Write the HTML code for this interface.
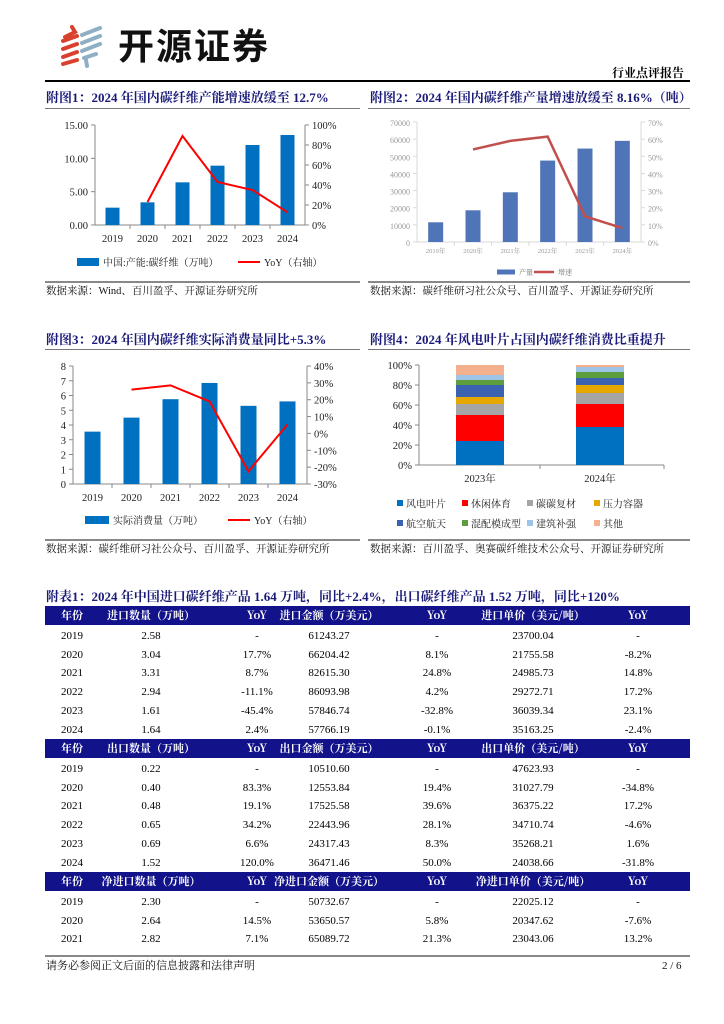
<!DOCTYPE html>
<html><head><meta charset="utf-8">
<style>
body{margin:0;background:#fff;}
#page{position:relative;width:724px;height:1024px;overflow:hidden;background:#fff;font-family:"Liberation Serif","Noto Serif CJK SC",serif;color:#000;}
.abs{position:absolute;}
.title{position:absolute;font-weight:bold;font-size:13px;line-height:16px;color:#1a1a7a;white-space:nowrap;font-family:"Liberation Serif","Noto Serif CJK SC",serif;}
.src{position:absolute;font-size:10.5px;line-height:14px;white-space:nowrap;color:#111;font-family:"Liberation Serif","Noto Serif CJK SC",serif;}
.hl{position:absolute;height:1px;background:#777;}
.sl{position:absolute;height:2px;background:#888;}
svg text{font-family:"Liberation Serif","Noto Serif CJK SC",serif;}
.tr{position:absolute;left:45px;width:645px;height:19px;font-size:11px;}
.tr span{position:absolute;top:0;line-height:19px;transform:translateX(-50%);white-space:nowrap;}
.th{background:#12128a;color:#fff;font-weight:bold;}
</style></head>
<body>
<div id="page">
  <svg class="abs" style="left:58px;top:24px" width="50" height="44">
    <g stroke="#d9412e" stroke-width="4" fill="none" stroke-linecap="round">
      <path d="M14 3 L17 8 L7 13"/><path d="M5 17 L19 12"/><path d="M5 25 L19 20"/><path d="M5 33 L19 28"/><path d="M5 40 L19 36"/>
    </g>
    <g stroke="#8fb0c4" stroke-width="4" fill="none" stroke-linecap="round">
      <path d="M24 11 L42 4"/><path d="M24 19 L42 12"/><path d="M24 27 L42 20"/><path d="M26 34 L38 30"/><path d="M28 36 L29 42"/>
    </g>
  </svg>
  <div class="abs" style="left:118px;top:22px;font-size:36px;font-weight:bold;letter-spacing:2px;font-family:'Noto Sans CJK SC',sans-serif;color:#111;line-height:44px">开源证券</div>
  <div class="abs" style="left:612px;top:64px;font-size:12px;font-weight:bold;font-family:'Noto Serif CJK SC',serif">行业点评报告</div>
  <div class="abs" style="left:45px;top:80px;width:645px;height:2px;background:#000"></div>

  <div class="title" style="left:46px;top:90px">附图1：2024 年国内碳纤维产能增速放缓至 12.7%</div>
  <div class="hl" style="left:45px;top:108px;width:315px"></div>
  <div class="title" style="left:370px;top:90px">附图2：2024 年国内碳纤维产量增速放缓至 8.16%（吨）</div>
  <div class="hl" style="left:368px;top:108px;width:322px"></div>

  <svg id="c1" class="abs" style="left:0;top:0" width="724" height="300"></svg>
  <svg id="c2" class="abs" style="left:0;top:0" width="724" height="300"></svg>

  <div class="sl" style="left:45px;top:281px;width:315px"></div>
  <div class="src" style="left:46px;top:285px">数据来源：Wind、百川盈孚、开源证券研究所</div>
  <div class="sl" style="left:368px;top:281px;width:322px"></div>
  <div class="src" style="left:370px;top:285px">数据来源：碳纤维研习社公众号、百川盈孚、开源证券研究所</div>

  <div class="title" style="left:46px;top:332px">附图3：2024 年国内碳纤维实际消费量同比+5.3%</div>
  <div class="hl" style="left:45px;top:349px;width:315px"></div>
  <div class="title" style="left:370px;top:332px">附图4：2024 年风电叶片占国内碳纤维消费比重提升</div>
  <div class="hl" style="left:368px;top:349px;width:322px"></div>

  <svg id="c3" class="abs" style="left:0;top:0" width="724" height="560"></svg>
  <svg id="c4" class="abs" style="left:0;top:0" width="724" height="560"></svg>

  <div class="sl" style="left:45px;top:539px;width:315px"></div>
  <div class="src" style="left:46px;top:543px">数据来源：碳纤维研习社公众号、百川盈孚、开源证券研究所</div>
  <div class="sl" style="left:368px;top:539px;width:322px"></div>
  <div class="src" style="left:370px;top:543px">数据来源：百川盈孚、奥赛碳纤维技术公众号、开源证券研究所</div>

  <div class="title" style="left:46px;top:589px">附表1：2024 年中国进口碳纤维产品 1.64 万吨，同比+2.4%，出口碳纤维产品 1.52 万吨，同比+120%</div>
  <div id="tbl"></div>

  <div class="abs" style="left:45px;top:955px;width:645px;height:2px;background:#888"></div>
  <div class="src" style="left:46px;top:959px;font-size:11px">请务必参阅正文后面的信息披露和法律声明</div>
  <div class="src" style="left:662px;top:959px;font-size:11px">2 / 6</div>
</div>
<script>
const years = ["2019","2020","2021","2022","2023","2024"];
const capValues = [2.6, 3.4, 6.4, 8.9, 12.0, 13.5];
const capYoY = [null, 23, 89, 43, 35, 12.7];
const capLeftTicks = ["0.00","5.00","10.00","15.00"];
const capRightTicks = ["0%","20%","40%","60%","80%","100%"];

const outYears = ["2019年","2020年","2021年","2022年","2023年","2024年"];
const outValues = [11500, 18500, 29000, 47500, 54500, 59000];
const outGrowth = [null, 54, 59, 61.5, 15, 8.16];
const outLeftTicks = ["0","10000","20000","30000","40000","50000","60000","70000"];
const outRightTicks = ["0%","10%","20%","30%","40%","50%","60%","70%"];

const conValues = [3.55, 4.5, 5.75, 6.85, 5.3, 5.6];
const conYoY = [null, 26, 28.5, 19, -22.5, 5.3];
const conLeftTicks = ["0","1","2","3","4","5","6","7","8"];
const conRightTicks = ["-30%","-20%","-10%","0%","10%","20%","30%","40%"];

const shareYears = ["2023年","2024年"];
const shareCats = ["风电叶片","休闲体育","碳碳复材","压力容器","航空航天","混配模成型","建筑补强","其他"];
const share2023 = [24, 26, 11, 7, 12, 5, 5, 10];
const share2024 = [38, 23, 11, 8, 7, 6, 5, 2];
const shareTicks = ["0%","20%","40%","60%","80%","100%"];

const NS="http://www.w3.org/2000/svg";
function mk(svg,tag,attrs,txt){const e=document.createElementNS(NS,tag);for(const k in attrs)e.setAttribute(k,attrs[k]);if(txt!==undefined)e.textContent=txt;svg.appendChild(e);return e;}

function comboChart(o){
  const s=document.getElementById(o.id);
  const n=o.cats.length, step=(o.x1-o.x0)/n;
  const yL=v=>o.yb-(v-o.lmin)/(o.lmax-o.lmin)*(o.yb-o.yt);
  const yR=v=>o.yb-(v-o.rmin)/(o.rmax-o.rmin)*(o.yb-o.yt);
  const xc=i=>o.x0+step*(i+0.5);
  let a=mk(s,'line',{x1:o.x0,y1:o.yt,x2:o.x0,y2:o.yb,stroke:o.axisColor,'stroke-width':1});
  
  a=mk(s,'line',{x1:o.x1,y1:o.yt,x2:o.x1,y2:o.yb,stroke:o.axisColor,'stroke-width':1});
  
  a=mk(s,'line',{x1:o.x0,y1:o.yb,x2:o.x1,y2:o.yb,stroke:o.axisColor,'stroke-width':1});
  
  o.lt.forEach((t,i)=>{const v=o.lmin+i*(o.lmax-o.lmin)/(o.lt.length-1);const y=yL(v);
    mk(s,'line',{x1:o.x0-4,y1:y,x2:o.x0,y2:y,stroke:o.axisColor});
    const e=mk(s,'text',{x:o.x0-7,y:y+4,'text-anchor':'end','font-size':o.tf,fill:o.tc},t);
    });
  o.rt.forEach((t,i)=>{const v=o.rmin+i*(o.rmax-o.rmin)/(o.rt.length-1);const y=yR(v);
    mk(s,'line',{x1:o.x1,y1:y,x2:o.x1+4,y2:y,stroke:o.axisColor});
    const e=mk(s,'text',{x:o.x1+7,y:y+4,'text-anchor':'start','font-size':o.tf,fill:o.tc},t);
    });
  for(let i=1;i<n;i++){mk(s,'line',{x1:o.x0+step*i,y1:o.yb,x2:o.x0+step*i,y2:o.yb+4,stroke:o.axisColor});}
  o.cats.forEach((c,i)=>{const e=mk(s,'text',{x:xc(i),y:o.yb+o.catDy,'text-anchor':'middle','font-size':o.cf,fill:o.tc},c);
    });
  o.bars.forEach((v,i)=>{const y=yL(v);const r=mk(s,'rect',{x:xc(i)-o.bw/2,y:y,width:o.bw,height:o.yb-y,fill:o.barColor});
    });
  let d='';o.line.forEach((v,i)=>{if(v===null)return;d+=(d?'L':'M')+xc(i)+' '+yR(v)+' ';});
  const p=mk(s,'path',{d:d,fill:'none',stroke:o.lineColor,'stroke-width':o.lw});
  
  const L=o.leg;
  let r=mk(s,'rect',{x:L.x,y:L.y-L.bh/2,width:L.bw,height:L.bh,fill:o.barColor});
  
  let t=mk(s,'text',{x:L.x+L.bw+4,y:L.y+L.f*0.38,'font-size':L.f,fill:L.c||'#222'},L.t1);
  
  let l=mk(s,'line',{x1:L.x2,y1:L.y,x2:L.x2+L.lw,y2:L.y,stroke:o.lineColor,'stroke-width':o.lw});
  
  t=mk(s,'text',{x:L.x2+L.lw+4,y:L.y+L.f*0.38,'font-size':L.f,fill:L.c||'#222'},L.t2);
  
}

comboChart({id:'c1',cats:years,bars:capValues,line:capYoY,x0:95,x1:305,yt:125,yb:225,lmin:0,lmax:15,rmin:0,rmax:100,
  lt:capLeftTicks,rt:capRightTicks,tf:10.5,cf:10.5,tc:'#222',axisColor:'#888',catDy:17,bw:14,barColor:'#0070c0',lineColor:'#ff0000',lw:2,
  leg:{x:77,y:262,bw:22,bh:8,f:10,t1:'中国:产能:碳纤维（万吨）',x2:238,lw:22,t2:'YoY（右轴）'}});
comboChart({id:'c2',cats:outYears,bars:outValues,line:outGrowth,x0:417,x1:641,yt:122,yb:242,lmin:0,lmax:70000,rmin:0,rmax:70,
  lt:outLeftTicks,rt:outRightTicks,tf:8,cf:6.5,tc:'#999',axisColor:'#d9d9d9',catDy:11,bw:15,barColor:'#4f75b8',lineColor:'#c0504d',lw:2.5,
  leg:{x:497,y:272,bw:18,bh:5,f:7,c:'#777',t1:'产量',x2:534,lw:20,t2:'增速'}});
comboChart({id:'c3',cats:years,bars:conValues,line:conYoY,x0:73,x1:307,yt:366,yb:484,lmin:0,lmax:8,rmin:-30,rmax:40,
  lt:conLeftTicks,rt:conRightTicks,tf:10.5,cf:10.5,tc:'#222',axisColor:'#888',catDy:17,bw:16,barColor:'#0070c0',lineColor:'#ff0000',lw:2,
  leg:{x:85,y:520,bw:24,bh:8,f:10,t1:'实际消费量（万吨）',x2:228,lw:22,t2:'YoY（右轴）'}});

(function(){
  const s=document.getElementById('c4');
  const colors=['#0070c0','#ff0000','#a5a5a5','#e6a700','#3a62b0','#5c9e3d','#9dc3e6','#f4b08c'];
  const x0=419,x1=664,yt=365,yb=465;
  const y=v=>yb-v/100*(yb-yt);
  const centers=[480,600];
  let a=mk(s,'line',{x1:x0,y1:yt,x2:x0,y2:yb,stroke:'#888'});
  a=mk(s,'line',{x1:x0,y1:yb,x2:x1,y2:yb,stroke:'#888'});
  shareTicks.forEach((t,i)=>{const yy=y(i*20);mk(s,'line',{x1:x0-4,y1:yy,x2:x0,y2:yy,stroke:'#888'});
    const e=mk(s,'text',{x:x0-7,y:yy+4,'text-anchor':'end','font-size':10.5,fill:'#222'},t);
    });
  mk(s,'line',{x1:540,y1:yb,x2:540,y2:yb+4,stroke:'#888'});mk(s,'line',{x1:x1,y1:yb,x2:x1,y2:yb+4,stroke:'#888'});
  [share2023,share2024].forEach((arr,j)=>{let acc=0;arr.forEach((v,k)=>{const r=mk(s,'rect',{x:centers[j]-24,y:y(acc+v),width:48,height:y(acc)-y(acc+v),fill:colors[k]});
      acc+=v;});
    const e=mk(s,'text',{x:centers[j],y:yb+17,'text-anchor':'middle','font-size':10.5,fill:'#222'},shareYears[j]);
    });
  const lx=[397,462,527,594];
  shareCats.forEach((c,k)=>{const row=Math.floor(k/4),col=k%4;const X=lx[col],Y=504+row*20;
    const r=mk(s,'rect',{x:X,y:Y-4,width:6,height:6,fill:colors[k]});
    const t=mk(s,'text',{x:X+9,y:Y+3.5,'font-size':10,fill:'#222'},c);});
})();

const colX=[72,151,257,329,437,533,638];
const hdr1=["年份","进口数量（万吨）","YoY","进口金额（万美元）","YoY","进口单价（美元/吨）","YoY"];
const rows1=[["2019","2.58","-","61243.27","-","23700.04","-"],["2020","3.04","17.7%","66204.42","8.1%","21755.58","-8.2%"],["2021","3.31","8.7%","82615.30","24.8%","24985.73","14.8%"],["2022","2.94","-11.1%","86093.98","4.2%","29272.71","17.2%"],["2023","1.61","-45.4%","57846.74","-32.8%","36039.34","23.1%"],["2024","1.64","2.4%","57766.19","-0.1%","35163.25","-2.4%"]];
const hdr2=["年份","出口数量（万吨）","YoY","出口金额（万美元）","YoY","出口单价（美元/吨）","YoY"];
const rows2=[["2019","0.22","-","10510.60","-","47623.93","-"],["2020","0.40","83.3%","12553.84","19.4%","31027.79","-34.8%"],["2021","0.48","19.1%","17525.58","39.6%","36375.22","17.2%"],["2022","0.65","34.2%","22443.96","28.1%","34710.74","-4.6%"],["2023","0.69","6.6%","24317.43","8.3%","35268.21","1.6%"],["2024","1.52","120.0%","36471.46","50.0%","24038.66","-31.8%"]];
const hdr3=["年份","净进口数量（万吨）","YoY","净进口金额（万美元）","YoY","净进口单价（美元/吨）","YoY"];
const rows3=[["2019","2.30","-","50732.67","-","22025.12","-"],["2020","2.64","14.5%","53650.57","5.8%","20347.62","-7.6%"],["2021","2.82","7.1%","65089.72","21.3%","23043.06","13.2%"]];
(function(){
  const page=document.getElementById('page');
  function row(cells,top,isHdr){const d=document.createElement('div');d.className='tr'+(isHdr?' th':'');d.style.top=top+'px';
    
    
    cells.forEach((c,i)=>{const sp=document.createElement('span');sp.style.left=(colX[i]-45)+'px';sp.textContent=c;
      if(isHdr)sp.style.fontFamily='"Noto Serif CJK SC",serif';
      d.appendChild(sp);});page.appendChild(d);}
  const blocks=[[hdr1,rows1,606],[hdr2,rows2,739],[hdr3,rows3,872]];
  blocks.forEach(b=>{row(b[0],b[2],true);b[1].forEach((r,i)=>row(r,b[2]+21+i*18.7,false));});
})();
</script>
</body></html>
